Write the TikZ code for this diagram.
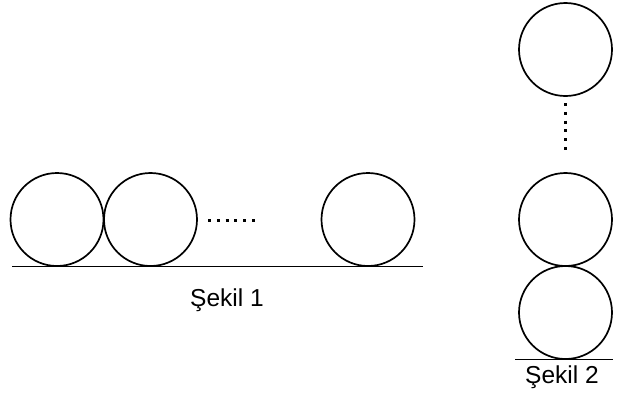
\documentclass[tikz,border=0pt]{standalone}
\usepackage{fontspec}
\setmainfont{Liberation Sans}
\usepackage{tikz}

\begin{document}
\begin{tikzpicture}[x=1pt, y=-1pt, line width=1.7pt]
        \tikzstyle{ballStyle} = [circle,draw=black,fill=white,inner sep=0pt,minimum size=93pt]
        \tikzstyle{groundLine} = [draw=black, line width=1.8pt]
        \tikzstyle{dotLine} = [draw=black, line width=3pt, dash pattern=on 3pt off 5.8pt]
        \tikzstyle{labelStyle} = [font=\fontsize{24.5}{29}\selectfont, anchor=base, inner sep=0pt]
        \useasboundingbox (0,0) rectangle (624,392);
        % Sekil 1
        \node[ballStyle] (a1) at (57,219.5) {};
        \node[ballStyle] (a2) at (150.5,219.5) {};
        \node[ballStyle] (a3) at (368,219.5) {};
        \coordinate (h1) at (208,220);
        \coordinate (h2) at (256,220);
        \coordinate (g1) at (12,266.5);
        \coordinate (g2) at (423,266.5);
        \path[dotLine] (h1) -- (h2);
        \path[groundLine] (g1) -- (g2);
        \node[labelStyle] (s1) at (227,306) {Şekil 1};
        % Sekil 2
        \node[ballStyle] (b1) at (565.5,49.5) {};
        \node[ballStyle] (b2) at (565.5,219.5) {};
        \node[ballStyle] (b3) at (565.5,312.5) {};
        \coordinate (v1) at (565,103);
        \coordinate (v2) at (565,151);
        \coordinate (k1) at (515,359.5);
        \coordinate (k2) at (613,359.5);
        \path[dotLine] (v1) -- (v2);
        \path[groundLine] (k1) -- (k2);
        \node[labelStyle] (s2) at (562,383) {Şekil 2};
\end{tikzpicture}
\end{document}
